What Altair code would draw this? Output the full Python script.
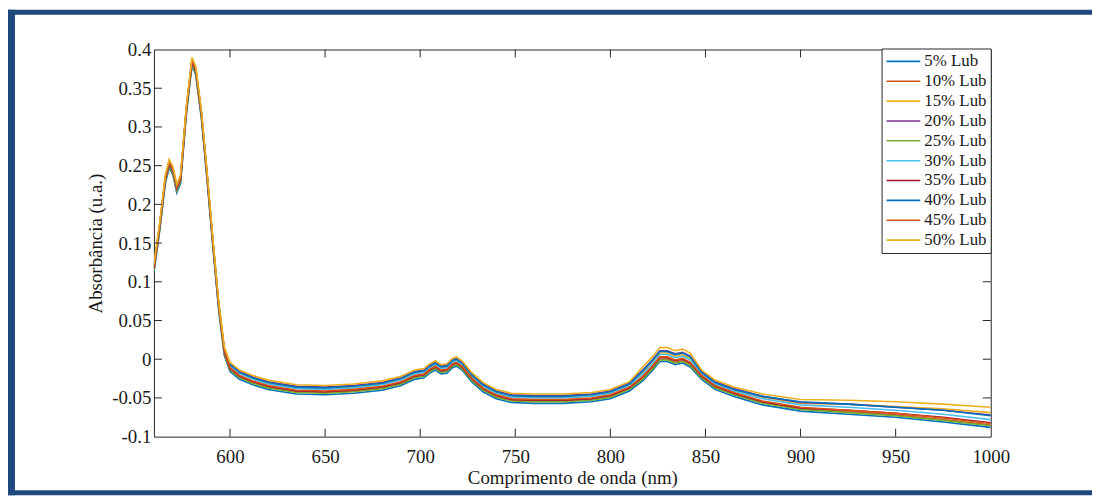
import altair as alt
import pandas as pd

# wavelength grid (nm)
wavelength = [560, 563, 566, 568, 570, 572, 574, 577, 580, 582,
              585, 588, 591, 594, 597, 600, 605, 612, 620, 635,
              650, 665, 680, 690, 697, 702, 705, 708, 711, 714,
              717, 719, 722, 727, 733, 740, 748, 760, 775, 790,
              800, 810, 817, 822, 826, 830, 834, 838, 842, 848,
              855, 865, 880, 900, 925, 950, 975, 1000]

labels = ["5% Lub", "10% Lub", "15% Lub", "20% Lub", "25% Lub",
          "30% Lub", "35% Lub", "40% Lub", "45% Lub", "50% Lub"]
colors = ["#0072BD", "#D95319", "#EDB120", "#7E2F8E", "#77AC30",
          "#4DBEEE", "#A2142F", "#0072BD", "#D95319", "#EDB120"]

# absorbance in milli-units
lub05 = [112, 165, 227, 247, 238, 215, 227, 315, 379, 367, 310, 230, 145, 65, 5,
         -16, -26, -33, -39, -45, -46, -44, -40, -34, -26, -24, -18, -14, -19, -18,
         -11, -9, -14, -29, -42, -51, -56, -57, -57, -55, -51, -41,
         -28, -15, -3, -3, -7, -5, -10, -26, -39, -48,
         -59, -67, -71, -75, -81, -88]
lub10 = [115, 168, 230, 250, 241, 218, 230, 318, 382, 370, 313, 233, 148, 68, 8,
         -13, -23, -30, -36, -42, -43, -41, -37, -31, -23, -21, -15, -11, -16, -15,
         -8, -6, -11, -26, -39, -48, -53, -54, -54, -52, -48, -38,
         -25, -12, 0, 0, -4, -2, -7, -23, -36, -45,
         -56, -64, -68, -72, -78, -85]
lub15 = [121, 174, 236, 256, 247, 224, 236, 324, 388, 376, 319, 239, 154, 74, 14,
         -8, -18, -25, -31, -37, -38, -36, -32, -26, -18, -16, -10, -6, -11, -10,
         -3, -1, -6, -21, -34, -43, -48, -49, -49, -47, -43, -33,
         -17, -4, 8, 8, 4, 6, 1, -18, -31, -40,
         -49, -57, -58, -61, -64, -69]
lub20 = [120, 173, 235, 255, 246, 223, 235, 323, 387, 375, 318, 238, 153, 73, 13,
         -6, -16, -23, -29, -35, -36, -34, -30, -24, -16, -14, -8, -4, -9, -8,
         -1, 1, -4, -19, -32, -41, -46, -47, -47, -45, -41, -31,
         -14, -1, 11, 11, 7, 9, 4, -16, -29, -38,
         -48, -56, -58, -62, -66, -72]
lub25 = [114, 167, 229, 249, 240, 217, 229, 317, 381, 369, 312, 232, 147, 67, 7,
         -14, -24, -31, -37, -43, -44, -42, -38, -32, -24, -22, -16, -12, -17, -16,
         -9, -7, -12, -27, -40, -49, -54, -55, -55, -53, -49, -39,
         -26, -13, -1, -1, -5, -3, -8, -24, -37, -46,
         -57, -65, -69, -73, -79, -86]
lub30 = [117, 170, 232, 252, 243, 220, 232, 320, 384, 372, 315, 235, 150, 70, 10,
         -9, -19, -26, -32, -38, -39, -37, -33, -27, -19, -17, -11, -7, -12, -11,
         -4, -2, -7, -22, -35, -44, -49, -50, -50, -48, -44, -34,
         -19, -6, 6, 6, 2, 4, -1, -19, -32, -41,
         -51, -59, -62, -66, -71, -78]
lub35 = [117, 170, 232, 252, 243, 220, 232, 320, 384, 372, 315, 235, 150, 70, 10,
         -12, -22, -29, -35, -41, -42, -40, -36, -30, -22, -20, -14, -10, -15, -14,
         -7, -5, -10, -25, -38, -47, -52, -53, -53, -51, -47, -37,
         -23, -10, 2, 2, -2, 0, -5, -22, -35, -44,
         -55, -63, -66, -70, -75, -82]
lub40 = [119, 172, 234, 254, 245, 222, 234, 322, 386, 374, 317, 237, 152, 72, 12,
         -7, -17, -24, -30, -36, -37, -35, -31, -25, -17, -15, -9, -5, -10, -9,
         -2, 0, -5, -20, -33, -42, -47, -48, -48, -46, -42, -32,
         -15, -2, 10, 10, 6, 8, 3, -17, -30, -39,
         -48, -55, -58, -62, -66, -73]
lub45 = [119, 172, 234, 254, 245, 222, 234, 322, 386, 374, 317, 237, 152, 72, 12,
         -11, -21, -28, -34, -40, -41, -39, -35, -29, -21, -19, -13, -9, -14, -13,
         -6, -4, -9, -24, -37, -46, -51, -52, -52, -50, -46, -36,
         -22, -9, 3, 3, -1, 1, -4, -21, -34, -43,
         -54, -62, -66, -70, -76, -83]
lub50 = [123, 176, 238, 258, 249, 226, 238, 326, 390, 378, 321, 241, 156, 76, 16,
         -4, -14, -21, -27, -33, -34, -32, -28, -22, -14, -12, -6, -2, -7, -6,
         1, 3, -2, -17, -30, -39, -44, -45, -45, -43, -39, -29,
         -10, 3, 15, 15, 11, 13, 8, -14, -27, -36,
         -45, -52, -53, -55, -58, -62]

series = [lub05, lub10, lub15, lub20, lub25, lub30, lub35, lub40, lub45, lub50]

x_tick_values = [600, 650, 700, 750, 800, 850, 900, 950]
x_label_values = [600, 650, 700, 750, 800, 850, 900, 950, 1000]
y_tick_values = [-0.05, 0, 0.05, 0.1, 0.15, 0.2, 0.25, 0.3, 0.35]
y_label_values = [-0.1, -0.05, 0, 0.05, 0.1, 0.15, 0.2, 0.25, 0.3, 0.35, 0.4]

rows = []
for i, (lab, ser) in enumerate(zip(labels, series)):
    for w, v in zip(wavelength, ser):
        rows.append({"wl": w, "ab": v / 1000.0, "series": lab, "idx": i})
df = pd.DataFrame(rows)

W, H = 843, 390
PAD_L, PAD_T, PAD_R, PAD_B = 147, 40, 102, 59
FONT = "Times New Roman, Liberation Serif, serif"
TXT = "#1a1a1a"
LINE = "#262626"
FRAME = "#1F497D"

x_scale = alt.Scale(domain=[560, 1000], nice=False, zero=False)
y_scale = alt.Scale(domain=[-0.1, 0.4], nice=False, zero=False)

x_axis = alt.Axis(values=x_label_values, title="Comprimento de onda (nm)",
                  labelExpr="'' + datum.value",
                  ticks=False, domain=False, grid=False, labelFlush=False,
                  labelPadding=11, titlePadding=2,
                  labelFont=FONT, labelFontSize=19, labelColor=TXT,
                  titleFont=FONT, titleFontSize=19, titleColor=TXT,
                  titleFontWeight="normal")
y_axis = alt.Axis(values=y_label_values, title="Absorbância (u.a.)",
                  labelExpr="'' + round(datum.value * 100) / 100",
                  ticks=False, domain=False, grid=False, labelFlush=False,
                  labelPadding=3, titlePadding=6,
                  labelFont=FONT, labelFontSize=19, labelColor=TXT,
                  titleFont=FONT, titleFontSize=19, titleColor=TXT,
                  titleFontWeight="normal")

lines = alt.Chart(df).mark_line(strokeWidth=1.6, clip=True).encode(
    x=alt.X("wl:Q", scale=x_scale, axis=x_axis),
    y=alt.Y("ab:Q", scale=y_scale, axis=y_axis),
    color=alt.Color("series:N",
                    scale=alt.Scale(domain=labels, range=colors),
                    legend=alt.Legend(title=None, orient="none", legendX=733, legendY=-1,
                                      symbolType="stroke", symbolSize=34 * 34,
                                      symbolStrokeWidth=1.6, clipHeight=18, rowPadding=2,
                                      labelFont=FONT, labelFontSize=17, labelColor=TXT,
                                      labelOffset=3, padding=4,
                                      strokeColor=LINE, fillColor="white")),
    order=alt.Order("idx:Q"),
)

xt = pd.DataFrame({"wl": x_tick_values})
yt = pd.DataFrame({"ab": y_tick_values})

tick_bottom = alt.Chart(xt).mark_rule(color=LINE, strokeWidth=1).encode(
    x=alt.X("wl:Q", scale=x_scale, axis=x_axis), y=alt.value(H), y2=alt.value(H - 8))
tick_top = alt.Chart(xt).mark_rule(color=LINE, strokeWidth=1).encode(
    x=alt.X("wl:Q", scale=x_scale, axis=x_axis), y=alt.value(0), y2=alt.value(8))
tick_left = alt.Chart(yt).mark_rule(color=LINE, strokeWidth=1).encode(
    y=alt.Y("ab:Q", scale=y_scale, axis=y_axis), x=alt.value(0), x2=alt.value(8))
tick_right = alt.Chart(yt).mark_rule(color=LINE, strokeWidth=1).encode(
    y=alt.Y("ab:Q", scale=y_scale, axis=y_axis), x=alt.value(W - 8), x2=alt.value(W))

one = pd.DataFrame({"k": [0]})
frame_top = alt.Chart(one).mark_rect(color=FRAME).encode(
    x=alt.value(-PAD_L), x2=alt.value(W + PAD_R), y=alt.value(-PAD_T), y2=alt.value(-PAD_T + 5))
frame_left = alt.Chart(one).mark_rect(color=FRAME).encode(
    x=alt.value(-PAD_L), x2=alt.value(-PAD_L + 7), y=alt.value(-PAD_T), y2=alt.value(H + PAD_B))
frame_bottom = alt.Chart(one).mark_rect(color=FRAME).encode(
    x=alt.value(-PAD_L), x2=alt.value(W + PAD_R), y=alt.value(H + 54), y2=alt.value(H + PAD_B))

chart = alt.layer(
    lines, tick_bottom, tick_top, tick_left, tick_right,
    frame_top, frame_left, frame_bottom
).properties(
    width=W, height=H,
    autosize=alt.AutoSizeParams(type="none"),
    padding={"left": PAD_L, "top": PAD_T, "right": PAD_R, "bottom": PAD_B},
    background="white",
).configure_view(stroke=LINE, strokeWidth=1)

chart.save("out.html", embed_options={"renderer": "svg", "actions": False})
